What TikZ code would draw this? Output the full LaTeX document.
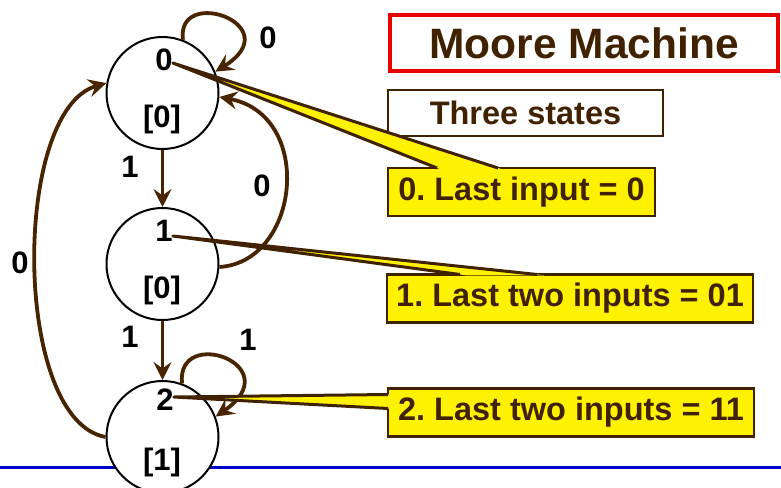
\documentclass[tikz,border=0pt]{standalone}
\usepackage{fontspec}
\setmainfont{Liberation Sans}
\frenchspacing
\usetikzlibrary{arrows.meta, calc}

\definecolor{arrowbrown}{RGB}{72,36,0}
\definecolor{textbrown}{RGB}{64,34,0}
\definecolor{titlered}{RGB}{235,0,0}
\definecolor{ruleblue}{RGB}{0,0,204}

\tikzset{
  statecirc/.style={circle, draw=black, line width=2pt, fill=white, minimum size=112pt, inner sep=0pt},
  statetxt/.style={font=\fontsize{31}{34}\selectfont\bfseries, inner sep=0pt},
  trans/.style={-{Stealth[length=18pt, width=18pt, inset=6.5pt]}, draw=arrowbrown, line width=3.8pt},
  callbox/.style={fill=yellow, draw=textbrown, line width=2.8pt, outer sep=0pt, text=textbrown,
    font=\fontsize{32.5}{36}\selectfont\bfseries, minimum height=48pt, inner sep=0pt},
  pointerline/.style={draw=textbrown, line width=3pt, line join=round},
}

\begin{document}
\begin{tikzpicture}[x=1pt, y=-1pt]
  \useasboundingbox (0,0) rectangle (781,487);

  % blue rule along the bottom
  \draw[ruleblue, line width=3pt] (0,467) -- (781,467);

  % States
  \node[statecirc] (s0) at (162.5,93) {};
  \node[statecirc] (s1) at (162.5,264) {};
  \node[statecirc] (s2) at (162.5,437) {};

  % Transitions
  \draw[trans] (s0) -- (s1);
  \draw[trans] (s1) -- (s2);
  \draw[trans] (s0.69) .. controls (176,-15) and (290,25) .. (s0.22);
  \draw[trans] (s1.-3) .. controls (300,262) and (315,115) .. (s0.-4);
  \draw[trans] (s2.70) .. controls (176,325) and (290,365) .. (s2.21);
  \draw[trans] (s2.180) .. controls (12,420) and (12,110) .. (s0.170);

  % State names and outputs
  \node[statetxt] (s0n) at (164,60) {0};
  \node[statetxt] (s0o) at (162,119) {[0]};
  \node[statetxt] (s1n) at (164,231) {1};
  \node[statetxt] (s1o) at (162,290) {[0]};
  \node[statetxt] (s2n) at (165,400) {2};
  \node[statetxt] (s2o) at (162,462) {[1]};

  % Input labels
  \node[statetxt] (e00) at (268,38) {0};
  \node[statetxt] (e01) at (130,167) {1};
  \node[statetxt] (e10) at (262,186) {0};
  \node[statetxt] (e12) at (130,337) {1};
  \node[statetxt] (e22) at (248,340) {1};
  \node[statetxt] (e20) at (20,263) {0};

  % Title and heading
  \node[draw=titlered, line width=3.5pt, text=textbrown, font=\fontsize{42.5}{46}\selectfont\bfseries,
    minimum width=388pt, minimum height=56pt, inner sep=0pt] (title) at (584,43) {Moore Machine};
  \node[draw=textbrown, line width=1.3pt, fill=white, text=textbrown, font=\fontsize{32.5}{36}\selectfont\bfseries,
    minimum width=275pt, minimum height=46pt, inner sep=0pt] (info) at (525.5,113) {Three states};

  % Callouts
  \node[callbox, minimum width=267pt] (c0) at (521.5,192) {0. Last input = 0};
  \node[callbox, minimum width=366pt] (c1) at (570,298.5) {1. Last two inputs = 01};
  \node[callbox, minimum width=366pt] (c2) at (571,412.5) {2. Last two inputs = 11};

  % Callout pointers
  \coordinate (p0) at ($(s0n.east)+(0,3)$);
  \coordinate (p0a) at ($(c0.north west)+(49,0)$);
  \coordinate (p0b) at ($(c0.north west)+(110,0)$);
  \coordinate (p1) at ($(s1n.east)+(0,5)$);
  \coordinate (p1a) at ($(c1.north west)+(73,0)$);
  \coordinate (p1b) at ($(c1.north west)+(150,0)$);
  \coordinate (p2) at ($(s2n.east)+(0,-3)$);
  \coordinate (p2a) at ($(c2.north west)+(0,6)$);
  \coordinate (p2b) at ($(c2.north west)+(0,20)$);
  \foreach \p in {0,1,2} {
    \fill[yellow] (p\p) -- ($(p\p)!1.02!(p\p a)$) -- ($(p\p)!1.02!(p\p b)$) -- cycle;
    \draw[pointerline] (p\p a) -- (p\p) -- (p\p b);
  }
\end{tikzpicture}
\end{document}
